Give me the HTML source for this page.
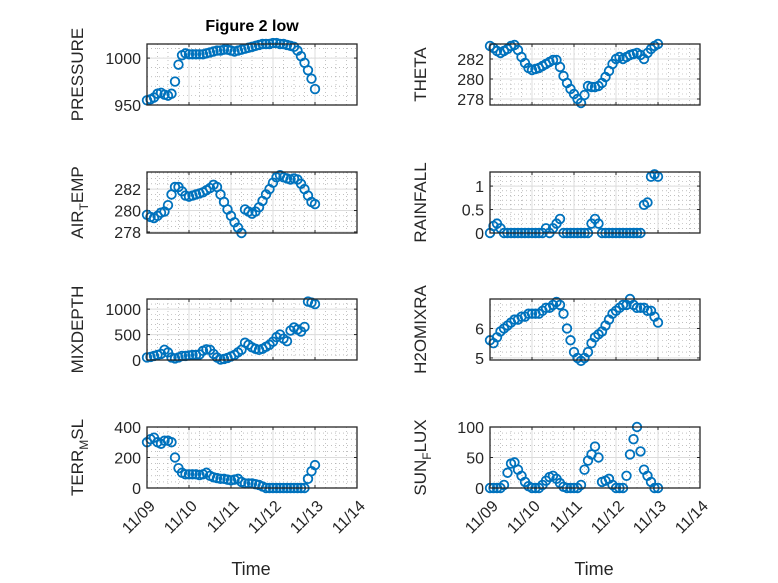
<!DOCTYPE html>
<html><head><meta charset="utf-8"><style>
html,body{margin:0;padding:0;background:#fff;}
svg{display:block;font-family:"Liberation Sans",sans-serif;}
</style></head><body>
<svg id="fig" width="778" height="583" viewBox="0 0 778 583">
<rect width="778" height="583" fill="#fff"/>
<text x="252" y="31" font-size="16" font-weight="bold" text-anchor="middle" fill="#000">Figure 2 low</text>
<g id="plots"></g>
<text x="251" y="575" font-size="18" text-anchor="middle" fill="#262626">Time</text>
<text x="594" y="575" font-size="18" text-anchor="middle" fill="#262626">Time</text>
</svg>
<script>
const hours = [0,2,4,6,8,10,12,14,16,18,20,22,24,26,28,30,32,34,36,38,40,42,44,46,48,50,52,54,56,58,60,62,64,66,68,70,72,74,76,78,80,82,84,86,88,90,92,94,96];
const xTickLabels = ["11/09","11/10","11/11","11/12","11/13","11/14"];
const pressure = [955,956,958,962,963,961,960,962,975,993,1003,1005,1004,1004,1004,1004,1004,1005,1006,1007,1008,1008,1009,1009,1008,1007,1008,1009,1010,1011,1012,1013,1014,1015,1015,1015,1016,1016,1015,1015,1014,1013,1012,1008,1002,995,987,978,967];
const airTemp = [279.6,279.4,279.3,279.5,279.8,279.9,280.5,281.5,282.2,282.2,281.8,281.4,281.3,281.4,281.5,281.6,281.7,281.9,282.1,282.4,282.2,281.5,280.8,280.1,279.5,278.9,278.4,277.9,280.1,279.9,279.7,279.9,280.3,280.9,281.5,282.0,282.6,283.1,283.3,283.1,283.0,282.9,283.0,282.9,282.5,282.0,281.4,280.8,280.6];
const mixDepth = [50,60,80,100,120,200,150,50,30,50,80,80,90,100,100,110,180,210,200,120,50,10,20,40,70,100,150,200,340,300,250,220,200,220,260,300,360,450,500,420,370,580,640,600,560,650,1150,1130,1100];
const terrMsl = [300,320,330,300,290,310,310,300,200,130,100,90,90,90,90,85,90,100,80,70,65,60,60,55,50,55,60,40,30,30,30,25,20,10,0,0,0,0,0,0,0,0,0,0,0,0,60,110,150];
const theta = [283.3,283.1,282.8,282.6,282.8,283.0,283.3,283.4,282.9,282.2,281.6,281.1,280.9,281.0,281.1,281.3,281.5,281.7,281.9,281.9,281.2,280.3,279.6,279.0,278.5,278.0,277.6,278.4,279.3,279.2,279.2,279.3,279.6,280.2,280.8,281.5,282.0,282.2,282.0,282.2,282.4,282.5,282.6,282.4,282.0,282.6,283.0,283.3,283.5];
const rainfall = [0,0.15,0.2,0.1,0,0,0,0,0,0,0,0,0,0,0,0,0.1,0,0.1,0.2,0.3,0,0,0,0,0,0,0,0,0.2,0.3,0.2,0,0,0,0,0,0,0,0,0,0,0,0,0.6,0.65,1.2,1.25,1.2];
const h2oMix = [5.6,5.5,5.7,5.9,6.0,6.1,6.2,6.3,6.3,6.4,6.4,6.5,6.5,6.5,6.5,6.6,6.7,6.7,6.8,6.9,6.8,6.5,6.0,5.6,5.2,5.0,4.9,5.0,5.2,5.5,5.7,5.8,5.9,6.1,6.3,6.5,6.6,6.7,6.8,6.8,7.0,6.8,6.7,6.7,6.7,6.6,6.6,6.4,6.2];
const sunFlux = [0,0,0,0,5,25,40,42,30,20,10,3,0,0,0,5,12,18,20,15,8,2,0,0,0,0,5,30,45,55,68,50,10,12,15,5,0,0,0,20,55,80,100,60,30,20,10,0,0];

const pressureTicks=[950,1000], airTicks=[278,280,282], mixTicks=[0,500,1000], terrTicks=[0,200,400];
const thetaTicks=[278,280,282], rainTicks=[0,0.5,1], h2oTicks=[5,6], sunTicks=[0,50,100];

const NS="http://www.w3.org/2000/svg";
const root=document.getElementById('plots');
function mk(tag,attrs,parent){const e=document.createElementNS(NS,tag);for(const k in attrs)e.setAttribute(k,attrs[k]);(parent||root).appendChild(e);return e;}

const panels=[
 {key:'pressure',x0:147,y0:44,data:pressure,ymin:950,ymax:1015,ticks:pressureTicks,minor:10,label:['PRESSURE'],bottom:false},
 {key:'air-temp',x0:147,y0:172,data:airTemp,ymin:277.9,ymax:283.6,ticks:airTicks,minor:0.5,label:['AIR','T','EMP'],bottom:false},
 {key:'mixdepth',x0:147,y0:299,data:mixDepth,ymin:0,ymax:1200,ticks:mixTicks,minor:100,label:['MIXDEPTH'],bottom:false},
 {key:'terr-msl',x0:147,y0:427,data:terrMsl,ymin:0,ymax:400,ticks:terrTicks,minor:40,label:['TERR','M','SL'],bottom:true},
 {key:'theta',x0:490,y0:44,data:theta,ymin:277.4,ymax:283.5,ticks:thetaTicks,minor:0.5,label:['THETA'],bottom:false},
 {key:'rainfall',x0:490,y0:172,data:rainfall,ymin:0,ymax:1.3,ticks:rainTicks,minor:0.1,label:['RAINFALL'],bottom:false},
 {key:'h2omixra',x0:490,y0:299,data:h2oMix,ymin:4.93,ymax:7.0,ticks:h2oTicks,minor:0.2,label:['H2OMIXRA'],bottom:false},
 {key:'sun-flux',x0:490,y0:427,data:sunFlux,ymin:0,ymax:100,ticks:sunTicks,minor:10,label:['SUN','F','LUX'],bottom:true},
];
const W=210,H=61;
panels.forEach(p=>{
  const g=mk('g',{});
  
  
  const xs=h=>p.x0+h/120*W;
  const ys=v=>p.y0+H-(v-p.ymin)/(p.ymax-p.ymin)*H;
  for(let h=6;h<120;h+=6){ if(h%24===0)continue;
    const l=mk('line',{x1:xs(h),x2:xs(h),y1:p.y0,y2:p.y0+H,stroke:'#999','stroke-width':0.6,'stroke-dasharray':'1,3'},g);
    
    
  }
  const start=Math.ceil(p.ymin/p.minor)*p.minor;
  for(let v=start;v<=p.ymax+1e-9;v+=p.minor){
    const l=mk('line',{x1:p.x0,x2:p.x0+W,y1:ys(v),y2:ys(v),stroke:'#999','stroke-width':0.6,'stroke-dasharray':'1,3'},g);
    
    
  }
  for(let i=1;i<5;i++){
    const l=mk('line',{x1:xs(i*24),x2:xs(i*24),y1:p.y0,y2:p.y0+H,stroke:'#dcdcdc','stroke-width':1},g);
    
    
  }
  p.ticks.forEach(t=>{
    const y=ys(t);
    const l=mk('line',{x1:p.x0,x2:p.x0+W,y1:y,y2:y,stroke:'#dcdcdc','stroke-width':1},g);
    
    
    mk('line',{x1:p.x0,x2:p.x0+3,y1:y,y2:y,stroke:'#262626'},g);
    mk('line',{x1:p.x0+W-3,x2:p.x0+W,y1:y,y2:y,stroke:'#262626'},g);
    const tx=mk('text',{x:p.x0-6,y:y+6,'font-size':16,'text-anchor':'end',fill:'#262626'},g);
    tx.textContent=String(t);
    
    
  });
  for(let i=0;i<6;i++){
    const x=xs(i*24);
    mk('line',{x1:x,x2:x,y1:p.y0+H,y2:p.y0+H-3,stroke:'#262626'},g);
    mk('line',{x1:x,x2:x,y1:p.y0,y2:p.y0+3,stroke:'#262626'},g);
    if(p.bottom){
      const ax=x+9, ay=p.y0+H+19;
      const tx=mk('text',{x:ax,y:ay,'font-size':16,'text-anchor':'end',fill:'#262626',transform:`rotate(-45 ${ax} ${ay})`},g);
      tx.textContent=xTickLabels[i];
      
      
    }
  }
  p.data.forEach((v,i)=>{
    const c=mk('circle',{cx:xs(hours[i]),cy:ys(v),r:4.3,fill:'none',stroke:'#0072BD','stroke-width':1.8},g);
    
    
  });
  const box=mk('rect',{x:p.x0,y:p.y0,width:W,height:H,fill:'none',stroke:'#262626','stroke-width':1.3},g);
  
  
  const lx=p.x0-64, ly=p.y0+H/2;
  const t=mk('text',{x:lx,y:ly,'font-size':17,'text-anchor':'middle',fill:'#262626',transform:`rotate(-90 ${lx} ${ly})`},g);
  
  
  if(p.label.length===1){t.textContent=p.label[0];}
  else{
    const a=mk('tspan',{},t);a.textContent=p.label[0];
    const b=mk('tspan',{dy:5,'font-size':12},t);b.textContent=p.label[1];
    const c=mk('tspan',{dy:-5},t);c.textContent=p.label[2];
  }
});
</script>
</body></html>
